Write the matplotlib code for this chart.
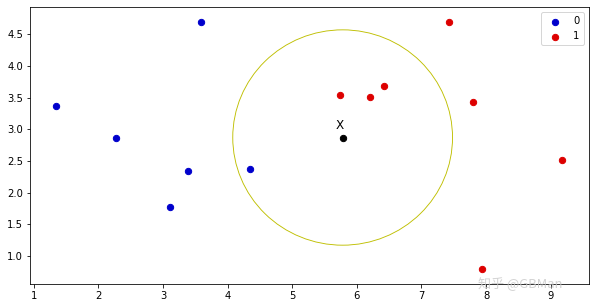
import matplotlib
matplotlib.use('Agg')
import matplotlib.pyplot as plt

# class 0 points (blue)
x0 = [1.35, 2.28, 3.59, 3.39, 3.11, 4.35]
y0 = [3.36, 2.87, 4.69, 2.34, 1.78, 2.37]
# class 1 points (red)
x1 = [7.42, 5.74, 6.21, 6.42, 7.79, 9.17, 7.93]
y1 = [4.70, 3.54, 3.51, 3.69, 3.43, 2.51, 0.79]
# query point and its neighbourhood radius
qx, qy = 5.78, 2.87
radius = 1.70
labels = ['0', '1']

fig = plt.figure(figsize=(595 / 72, 308 / 72), dpi=72)
ax = fig.add_axes([30 / 595, 24 / 308, 558.7 / 595, 276.7 / 308])

ax.scatter(x0, y0, c='#0000cc', s=40, label=labels[0])
ax.scatter(x1, y1, c='#dd0000', s=40, label=labels[1])
ax.scatter([qx], [qy], c='k', s=40)
ax.text(qx - 0.04, qy + 0.09, 'X', fontsize=12, ha='center', va='bottom')

circle = plt.Circle((qx, qy), radius, fill=False, color='#bfbf00', lw=0.9)
ax.add_patch(circle)

ax.set_xlim(0.943, 9.587)
ax.set_ylim(0.557, 4.926)
ax.legend(loc='upper right')

# watermark
fig.text(0.875, 0.055, '知乎 @GBMan', fontsize=13, color='#c8c8c8', alpha=0.8,
         ha='center', va='bottom', family=['Noto Sans CJK SC', 'DejaVu Sans'])

fig.savefig('out.png', dpi=72)
